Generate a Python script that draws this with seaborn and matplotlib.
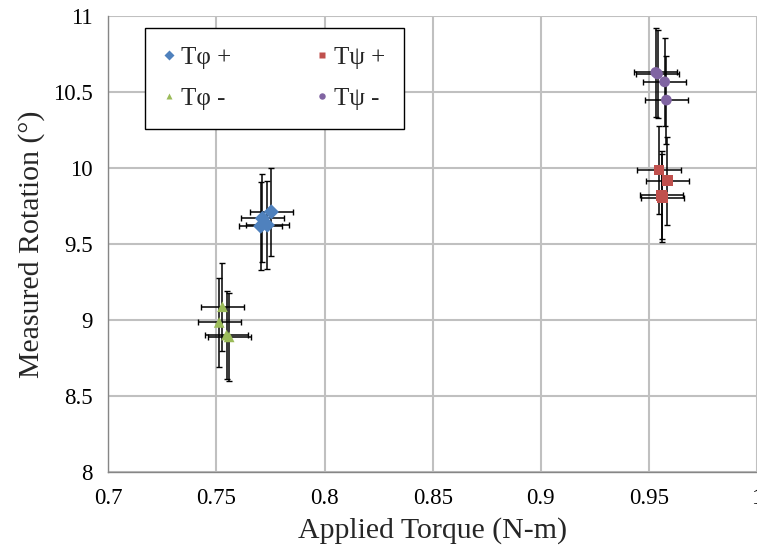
import numpy as np
import pandas as pd
import matplotlib
matplotlib.use('Agg')
import matplotlib.pyplot as plt
import seaborn as sns

## Data
series     = ['Tφ +', 'Tφ -', 'Tψ +', 'Tψ -']
phi_p_x    = [0.7754, 0.7713, 0.7705, 0.7736]
phi_p_y    = [9.713, 9.670, 9.619, 9.626]
phi_m_x    = [0.7528, 0.7513, 0.7547, 0.7559]
phi_m_y    = [9.089, 8.986, 8.903, 8.891]
psi_p_x    = [0.9547, 0.9585, 0.9559, 0.9562]
psi_p_y    = [9.988, 9.917, 9.823, 9.805]
psi_m_x    = [0.9532, 0.9573, 0.9581, 0.9540]
psi_m_y    = [10.630, 10.568, 10.448, 10.620]
x_err      = [0.010, 0.010, 0.010, 0.010]
y_err      = [0.29, 0.29, 0.29, 0.29]
x_ticks    = [0.7, 0.75, 0.8, 0.85, 0.9, 0.95, 1.0]
x_labels   = ['0.7', '0.75', '0.8', '0.85', '0.9', '0.95', '1']
y_ticks    = [8, 8.5, 9, 9.5, 10, 10.5, 11]
y_labels   = ['8', '8.5', '9', '9.5', '10', '10.5', '11']

colors  = {'Tφ +': '#4F81BD', 'Tφ -': '#9BBB59', 'Tψ +': '#C0504D', 'Tψ -': '#8064A2'}
markers = {'Tφ +': 'D', 'Tφ -': '^', 'Tψ +': 's', 'Tψ -': 'o'}

xs = [phi_p_x, phi_m_x, psi_p_x, psi_m_x]
ys = [phi_p_y, phi_m_y, psi_p_y, psi_m_y]
df = pd.concat([pd.DataFrame({'x': xs[i], 'y': ys[i], 'series': series[i]}) for i in range(4)],
               ignore_index=True)

## Figure
sns.set_theme(style='white')
plt.rcParams['font.family'] = ['Liberation Serif', 'DejaVu Serif']
fig = plt.figure(figsize=(7.57, 5.57), dpi=100)
ax = fig.add_axes([0.143, 0.152, 0.857, 0.819])

for i in range(4):
    ax.errorbar(xs[i], ys[i], xerr=x_err[i], yerr=y_err[i], fmt='none',
                ecolor='black', elinewidth=1.1, capsize=2.5, capthick=1.0, zorder=2)

sns.scatterplot(data=df, x='x', y='y', hue='series', style='series',
                hue_order=series, style_order=series, palette=colors, markers=markers,
                s=60, edgecolor='none', ax=ax, zorder=3)

ax.set_xlim(0.7, 1.0)
ax.set_ylim(8, 11)
ax.set_xticks(x_ticks)
ax.set_xticklabels(x_labels)
ax.set_yticks(y_ticks)
ax.set_yticklabels(y_labels)
ax.tick_params(axis='both', labelsize=16.5, colors='black', direction='out',
               length=5, width=1, pad=6)
ax.tick_params(axis='both', color='#868686')
ax.grid(True, color='#c0c0c0', linewidth=1.5)
ax.set_axisbelow(True)
for side in ['top', 'right']:
    ax.spines[side].set_visible(False)
for side in ['left', 'bottom']:
    ax.spines[side].set_color('#868686')
    ax.spines[side].set_linewidth(1.0)

ax.set_xlabel('Applied Torque (N-m)', fontsize=21.5, labelpad=6)
ax.set_ylabel('Measured Rotation (°)', fontsize=21.5, labelpad=6)

sns.move_legend(ax, 'upper left', bbox_to_anchor=(0.057, 0.975), ncol=2, title=None,
                fontsize=18, frameon=True, fancybox=False, edgecolor='black',
                framealpha=1, markerscale=0.6, handlelength=0.4, handletextpad=0.3,
                columnspacing=3.4, labelspacing=0.75, borderpad=0.75, borderaxespad=0)
ax.get_legend().get_frame().set_linewidth(1.0)

fig.savefig('out.png', dpi=100)
